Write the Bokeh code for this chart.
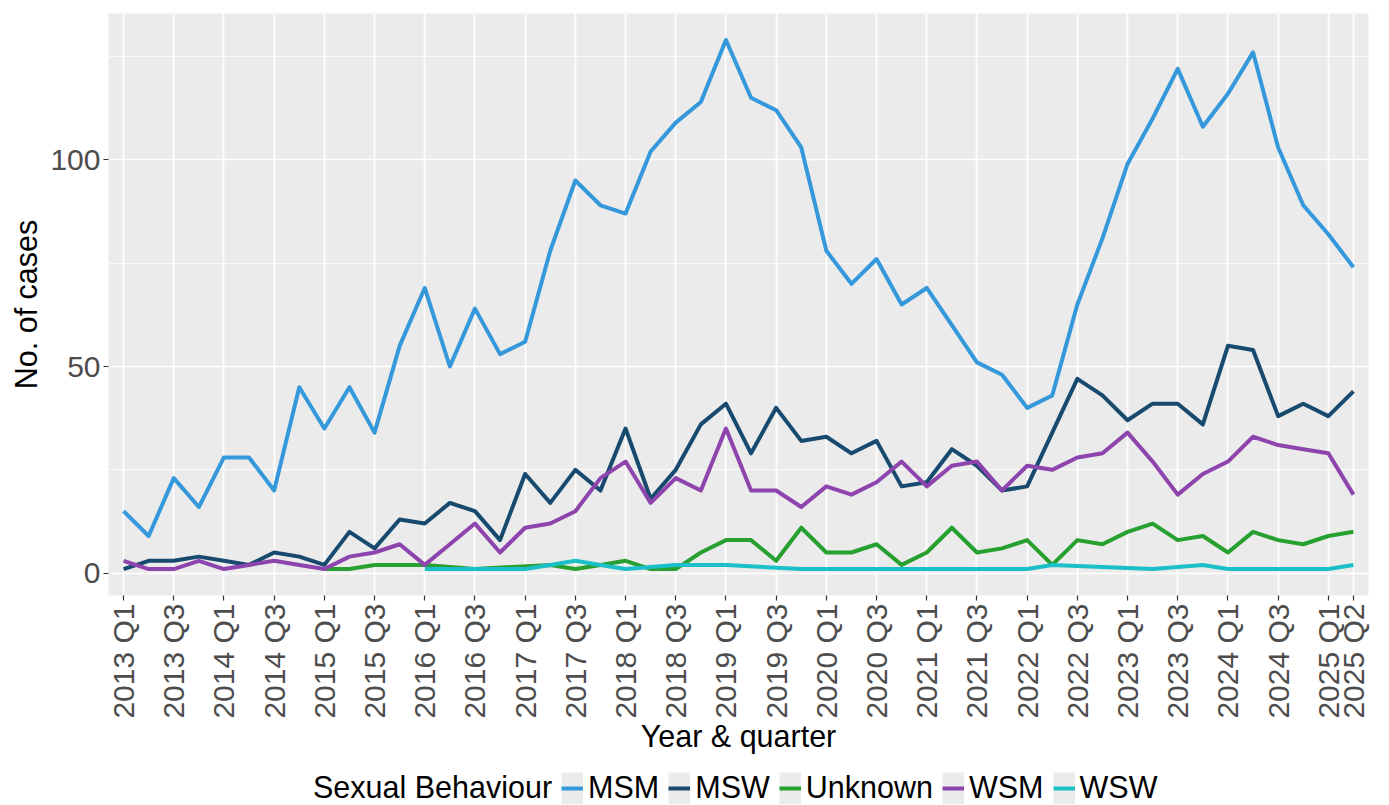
import math
from bokeh.plotting import figure
from bokeh.layouts import column
from bokeh.models import Range1d, FixedTicker, Legend, LegendItem
from bokeh.embed import file_html
from bokeh.resources import INLINE

quarters = [
    "2013 Q1", "2013 Q2", "2013 Q3", "2013 Q4", "2014 Q1", "2014 Q2", "2014 Q3", "2014 Q4",
    "2015 Q1", "2015 Q2", "2015 Q3", "2015 Q4", "2016 Q1", "2016 Q2", "2016 Q3", "2016 Q4",
    "2017 Q1", "2017 Q2", "2017 Q3", "2017 Q4", "2018 Q1", "2018 Q2", "2018 Q3", "2018 Q4",
    "2019 Q1", "2019 Q2", "2019 Q3", "2019 Q4", "2020 Q1", "2020 Q2", "2020 Q3", "2020 Q4",
    "2021 Q1", "2021 Q2", "2021 Q3", "2021 Q4", "2022 Q1", "2022 Q2", "2022 Q3", "2022 Q4",
    "2023 Q1", "2023 Q2", "2023 Q3", "2023 Q4", "2024 Q1", "2024 Q2", "2024 Q3", "2024 Q4",
    "2025 Q1", "2025 Q2",
]
tick_labels = [
    "2013 Q1", "2013 Q3", "2014 Q1", "2014 Q3", "2015 Q1", "2015 Q3", "2016 Q1", "2016 Q3",
    "2017 Q1", "2017 Q3", "2018 Q1", "2018 Q3", "2019 Q1", "2019 Q3", "2020 Q1", "2020 Q3",
    "2021 Q1", "2021 Q3", "2022 Q1", "2022 Q3", "2023 Q1", "2023 Q3", "2024 Q1", "2024 Q3",
    "2025 Q1", "2025 Q2",
]

MSM = [15, 9, 23, 16, 28, 28, 20, 45, 35, 45,
       34, 55, 69, 50, 64, 53, 56, 78, 95, 89,
       87, 102, 109, 114, 129, 115, 112, 103, 78, 70,
       76, 65, 69, 60, 51, 48, 40, 43, 65, 81,
       99, 110, 122, 108, 116, 126, 103, 89, 82, 74]
MSW = [1, 3, 3, 4, 3, 2, 5, 4, 2, 10,
       6, 13, 12, 17, 15, 8, 24, 17, 25, 20,
       35, 18, 25, 36, 41, 29, 40, 32, 33, 29,
       32, 21, 22, 30, 26, 20, 21, 34, 47, 43,
       37, 41, 41, 36, 55, 54, 38, 41, 38, 44]
Unknown = [None, None, None, None, None, None, None, None, 1, 1,
           2, 2, 2, None, 1, None, None, 2, 1, 2,
           3, 1, 1, 5, 8, 8, 3, 11, 5, 5,
           7, 2, 5, 11, 5, 6, 8, 2, 8, 7,
           10, 12, 8, 9, 5, 10, 8, 7, 9, 10]
WSM = [3, 1, 1, 3, 1, 2, 3, 2, 1, 4,
       5, 7, 2, 7, 12, 5, 11, 12, 15, 23,
       27, 17, 23, 20, 35, 20, 20, 16, 21, 19,
       22, 27, 21, 26, 27, 20, 26, 25, 28, 29,
       34, 27, 19, 24, 27, 33, 31, 30, 29, 19]
WSW = [None, None, None, None, None, None, None, None, None, None,
       None, None, 1, 1, 1, 1, 1, 2, 3, 2,
       1, None, 2, 2, 2, None, None, 1, 1, 1,
       1, 1, 1, 1, 1, 1, 1, 2, None, None,
       None, 1, None, 2, 1, 1, 1, 1, 1, 2]

series_names = ["MSM", "MSW", "Unknown", "WSM", "WSW"]
series_values = [MSM, MSW, Unknown, WSM, WSW]
series_colors = ["#3498db", "#174a6e", "#27a030", "#8e44ad", "#1abfc8"]
legend_title = "Sexual Behaviour"

FONT = "Liberation Sans"

tick_pos = [quarters.index(t) for t in tick_labels]

p = figure(
    frame_width=1260, frame_height=582,
    x_range=Range1d(-0.6, len(quarters) - 1 + 0.6),
    y_range=Range1d(-5.4, 135.4),
    output_backend="svg", toolbar_location=None,
    min_border_left=108, min_border_right=21, min_border_top=13, min_border_bottom=170,
    background_fill_color="#ebebeb", border_fill_color="white",
    outline_line_color=None,
)

# axes
for ax in (p.xaxis[0], p.yaxis[0]):
    ax.axis_line_color = None
    ax.major_tick_line_color = "#333333"
    ax.major_tick_line_width = 1.2
    ax.major_tick_out = 5
    ax.major_tick_in = 0
    ax.minor_tick_line_color = None
    ax.major_label_text_font = FONT
    ax.major_label_text_font_size = "30px"
    ax.major_label_text_color = "#4d4d4d"
    ax.axis_label_text_font = FONT
    ax.axis_label_text_font_size = "30.5px"
    ax.axis_label_text_font_style = "normal"
    ax.axis_label_text_color = "black"

p.xaxis.ticker = FixedTicker(ticks=tick_pos)
p.xaxis.major_label_overrides = {i: quarters[i] for i in tick_pos}
p.xaxis.major_label_orientation = math.pi / 2
p.xaxis.major_label_standoff = 3
p.xaxis.axis_label = "Year & quarter"
p.xaxis.axis_label_standoff = -3

p.yaxis.ticker = FixedTicker(ticks=[0, 50, 100], minor_ticks=[25, 75, 125])
p.yaxis.major_label_standoff = 3
p.yaxis.axis_label = "No. of cases"
p.yaxis.axis_label_standoff = 4

# grid
p.xgrid.ticker = FixedTicker(ticks=tick_pos)
p.xgrid.grid_line_color = "white"
p.xgrid.grid_line_width = 1.6
p.ygrid.grid_line_color = "white"
p.ygrid.grid_line_width = 1.6
p.ygrid.minor_grid_line_color = "white"
p.ygrid.minor_grid_line_width = 0.8

series_xy = []
for vals, col in zip(series_values, series_colors):
    xs = [i for i, v in enumerate(vals) if v is not None]
    ys = [v for v in vals if v is not None]
    series_xy.append((xs, ys))
    p.line(x=xs, y=ys, line_color=col, line_width=4, line_join="round")

# legend strip: a second, axis-less figure whose view range shows none of the
# data, so only the legend it holds is visible
leg = figure(
    width=1389, height=40,
    x_range=Range1d(-3, -2), y_range=Range1d(-3, -2),
    x_axis_type=None, y_axis_type=None,
    output_backend="svg", toolbar_location=None,
    min_border=0, outline_line_color=None,
    background_fill_color="white", border_fill_color="white",
)
leg.grid.visible = False

blank = leg.line(x=series_xy[0][0], y=series_xy[0][1], line_alpha=0)
items = [LegendItem(label=legend_title, renderers=[blank])]
for name, col, (xs, ys) in zip(series_names, series_colors, series_xy):
    key_bg = leg.line(x=xs, y=ys, line_color="#ebebeb", line_width=32)
    key_ln = leg.line(x=xs, y=ys, line_color=col, line_width=4)
    items.append(LegendItem(label=name, renderers=[key_bg, key_ln]))

legend = Legend(
    items=items, orientation="horizontal", location=(178, 0),
    label_text_font=FONT, label_text_font_size="30.5px", label_text_color="black",
    glyph_width=22, glyph_height=32, label_standoff=5, spacing=9,
    padding=0, margin=0, border_line_color=None, background_fill_alpha=0,
)
leg.add_layout(legend, "center")

layout = column(p, leg, spacing=0)

open("out.html", "w").write(file_html(layout, INLINE))
